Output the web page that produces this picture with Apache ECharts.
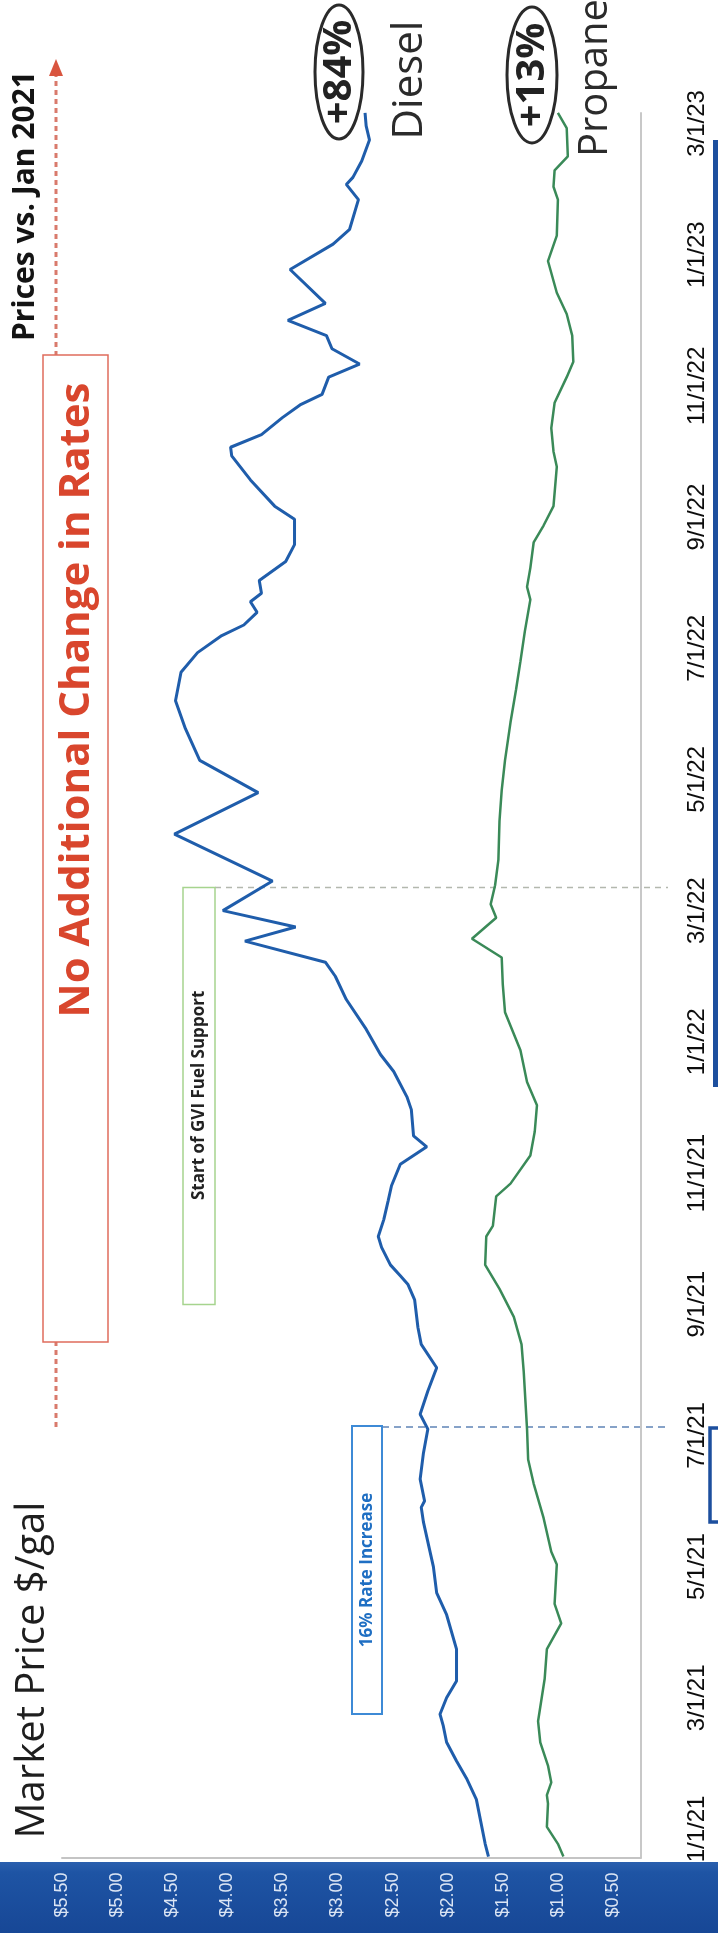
<!DOCTYPE html>
<html><head><meta charset="utf-8">
<script src="https://cdn.jsdelivr.net/npm/echarts@6/dist/echarts.min.js"></script>
<style>html,body{margin:0;padding:0;background:#fff}#c{width:718px;height:1933px}</style>
</head><body><div id="c"></div>
<script>
// ---------- data ----------
const dieselDates = ['2020-12-19','2020-12-25','2021-01-15','2021-01-25','2021-02-02','2021-02-10','2021-02-17','2021-02-22','2021-03-01','2021-03-09',
'2021-03-24','2021-04-09','2021-04-19','2021-05-01','2021-05-08','2021-05-22','2021-05-29','2021-06-01','2021-06-11','2021-06-23',
'2021-07-04','2021-07-11','2021-07-22','2021-08-02','2021-08-13','2021-08-21','2021-09-03','2021-09-10','2021-09-14','2021-09-19',
'2021-09-27','2021-10-02','2021-10-10','2021-10-19','2021-10-26','2021-11-05','2021-11-13','2021-11-18','2021-11-30','2021-12-06',
'2021-12-18','2021-12-26','2022-01-07','2022-01-21','2022-02-01','2022-02-07','2022-02-16','2022-02-22','2022-03-01','2022-03-15',
'2022-04-06','2022-04-25','2022-05-10','2022-05-25','2022-06-07','2022-06-20','2022-06-29','2022-07-07','2022-07-12','2022-07-18',
'2022-07-23','2022-07-27','2022-08-02','2022-08-11','2022-08-19','2022-08-31','2022-09-06','2022-09-18','2022-09-29','2022-10-03',
'2022-10-09','2022-10-17','2022-10-23','2022-10-28','2022-11-05','2022-11-11','2022-11-18','2022-11-24','2022-12-01','2022-12-09',
'2022-12-25','2023-01-06','2023-01-13','2023-01-27','2023-02-03','2023-02-06','2023-02-13','2023-02-22','2023-02-28','2023-03-06'];
const dieselPrices = [1.63,1.66,1.74,1.83,1.92,2.01,2.04,2.07,2.01,1.92,
1.92,2.01,2.10,2.13,2.16,2.22,2.24,2.21,2.25,2.22,
2.18,2.25,2.18,2.10,2.24,2.27,2.30,2.36,2.43,2.52,
2.60,2.63,2.58,2.54,2.51,2.43,2.19,2.31,2.33,2.37,
2.49,2.61,2.74,2.92,3.02,3.11,3.84,3.38,4.04,3.59,
4.48,3.72,4.25,4.38,4.47,4.42,4.27,4.05,3.85,3.73,
3.79,3.69,3.71,3.47,3.39,3.39,3.57,3.79,3.96,3.97,
3.69,3.50,3.34,3.14,3.08,2.80,3.05,3.10,3.45,3.11,
3.43,3.04,2.89,2.81,2.92,2.86,2.78,2.71,2.74,2.75];

const propaneDates = ['2020-12-19','2020-12-25','2021-01-02','2021-01-13','2021-01-17','2021-01-23','2021-01-31','2021-02-10','2021-02-19','2021-03-10',
'2021-03-24','2021-04-05','2021-04-14','2021-05-02','2021-05-08','2021-05-24','2021-06-09','2021-06-20','2021-07-04','2021-07-31',
'2021-08-13','2021-08-26','2021-09-08','2021-09-19','2021-10-02','2021-10-07','2021-10-21','2021-10-27','2021-11-09','2021-11-20',
'2021-12-02','2021-12-13','2021-12-28','2022-01-15','2022-01-28','2022-02-09','2022-02-17','2022-02-26','2022-03-04','2022-03-13',
'2022-03-25','2022-04-12','2022-04-26','2022-05-10','2022-05-28','2022-06-12','2022-06-25','2022-07-09','2022-07-24','2022-07-30',
'2022-08-08','2022-08-20','2022-08-28','2022-09-06','2022-09-24','2022-10-01','2022-10-12','2022-10-24','2022-11-05','2022-11-12',
'2022-11-24','2022-12-04','2022-12-14','2022-12-29','2023-01-10','2023-01-27','2023-02-02','2023-02-09','2023-02-15','2023-02-27','2023-03-06'];
const propanePrices = [0.95,1.00,1.10,1.09,1.10,1.06,1.09,1.16,1.18,1.12,
1.10,0.97,1.03,1.01,1.06,1.13,1.22,1.27,1.28,1.31,
1.33,1.40,1.53,1.66,1.65,1.59,1.56,1.43,1.25,1.21,
1.19,1.28,1.34,1.48,1.50,1.51,1.78,1.56,1.61,1.57,
1.54,1.53,1.51,1.48,1.43,1.38,1.34,1.30,1.25,1.28,
1.25,1.22,1.13,1.04,1.01,1.04,1.06,1.03,0.92,0.86,
0.87,0.92,1.01,1.09,1.01,1.00,1.04,1.03,0.91,0.92,1.00];

const priceTicks = [0.5,1.0,1.5,2.0,2.5,3.0,3.5,4.0,4.5,5.0,5.5];
const dateTicks = [0,2,4,6,8,10,12,14,16,18,20,22,24,26]; // months after Jan 2021
const dateTickLabels = ['1/1/21','3/1/21','5/1/21','7/1/21','9/1/21','11/1/21','1/1/22','3/1/22','5/1/22','7/1/22','9/1/22','11/1/22','1/1/23','3/1/23'];
const rateIncreaseDate = '2021-07-05';
const gviStartDate = '2022-03-12';
const dieselChange = '+84%';
const propaneChange = '+13%';

// ---------- helpers ----------
function monthIndex(s){
  const p = s.split('-').map(Number);
  const dim = new Date(p[0], p[1], 0).getDate();
  return (p[0]-2021)*12 + (p[1]-1) + (p[2]-1)/dim;
}

const chart = echarts.init(document.getElementById('c'), null, {renderer:'canvas', width:718, height:1933});

const option = {
  animation: false,
  backgroundColor: '#ffffff',
  grid: {left: 62, right: 77.45, top: 113, bottom: 75, containLabel: false, outerBoundsMode: 'none'},
  xAxis: {
    type: 'value', inverse: true, min: 0.25, max: 5.5,
    splitLine: {show: false},
    axisTick: {show: false},
    axisLine: {show: true, onZero: false, lineStyle: {color: '#c4c4c4', width: 2}},
    axisLabel: {
      customValues: priceTicks,
      formatter: v => '$' + v.toFixed(2),
      rotate: 90, margin: 37, align: 'center', verticalAlign: 'middle',
      color: '#dbe5f4', fontSize: 18, fontFamily: 'Liberation Sans'
    }
  },
  yAxis: {
    type: 'value', min: -0.442, max: 26.16, position: 'right',
    splitLine: {show: false},
    axisTick: {show: false},
    axisLine: {show: true, onZero: false, lineStyle: {color: '#c8c8c8', width: 2}},
    axisLabel: {
      customValues: dateTicks,
      formatter: v => dateTickLabels[dateTicks.indexOf(Math.round(v))] || '',
      rotate: 90, margin: 57, align: 'center', verticalAlign: 'middle',
      color: '#0d0d0d', fontSize: 24, fontFamily: "'Liberation Sans', Arial, sans-serif"
    }
  },
  series: [
    {name: 'Diesel', type: 'line', symbol: 'none', clip: false,
     data: dieselDates.map((d,i) => [dieselPrices[i], monthIndex(d)]),
     lineStyle: {color: '#1f5dab', width: 3}, z: 3},
    {name: 'Propane', type: 'line', symbol: 'none', clip: false,
     data: propaneDates.map((d,i) => [propanePrices[i], monthIndex(d)]),
     lineStyle: {color: '#3a8a58', width: 2.5}, z: 3}
  ]
};
chart.setOption(option);

const yRate = chart.convertToPixel({yAxisIndex: 0}, monthIndex(rateIncreaseDate));
const yGvi = chart.convertToPixel({yAxisIndex: 0}, monthIndex(gviStartDate));
const R = Math.PI/2;

const graphics = [
  {type:'rect', z:-10, shape:{x:0, y:1862, width:718, height:71},
   style:{fill: new echarts.graphic.LinearGradient(0,0,0,1,[{offset:0,color:'#2a5fae'},{offset:0.15,color:'#1e54a4'},{offset:1,color:'#174796'}])}},
  // titles
  {type:'text', x:33, y:1670, rotation:R, style:{text:'Market Price $/gal', fill:'#1e1e1e', font:"40px 'Open Sans'", align:'center', verticalAlign:'middle'}},
  {type:'text', x:25, y:206, rotation:R, style:{text:'Prices vs. Jan 2021', fill:'#141414', font:"bold 30px 'Open Sans'", align:'center', verticalAlign:'middle'}},
  // red arrow
  {type:'line', shape:{x1:56, y1:yRate, x2:56, y2:74}, style:{stroke:'#d97a6c', lineWidth:3, lineDash:[5,4]}},
  {type:'polygon', shape:{points:[[56,59],[49,76],[63,76]]}, style:{fill:'#d9553f'}},
  {type:'rect', shape:{x:43, y:355, width:65, height:987}, style:{fill:'#ffffff', stroke:'#e06c5c', lineWidth:1.5}},
  {type:'text', x:77, y:700, rotation:R, style:{text:'No Additional Change in Rates', fill:'#d9462d', font:"bold 42px 'Open Sans'", align:'center', verticalAlign:'middle'}},
  // 16% rate increase
  {type:'line', shape:{x1:382, y1:yRate, x2:668, y2:yRate}, style:{stroke:'#86a2c8', lineWidth:2, lineDash:[7,5]}},
  {type:'rect', shape:{x:352, y:yRate-1, width:30, height:288}, style:{fill:'#ffffff', stroke:'#3d8ad6', lineWidth:2}},
  {type:'text', x:367, y:yRate+143, rotation:R, style:{text:'16% Rate Increase', fill:'#1f6fc3', font:"bold 17px 'Open Sans'", align:'center', verticalAlign:'middle'}},
  // GVI
  {type:'line', shape:{x1:215, y1:yGvi, x2:668, y2:yGvi}, style:{stroke:'#b3b8ae', lineWidth:1.5, lineDash:[6,5]}},
  {type:'rect', shape:{x:183, y:yGvi, width:32, height:417}, style:{fill:'#ffffff', stroke:'#a6d48e', lineWidth:1.5}},
  {type:'text', x:199, y:yGvi+208, rotation:R, style:{text:'Start of GVI Fuel Support', fill:'#222222', font:"bold 17px 'Open Sans'", align:'center', verticalAlign:'middle'}},
  // end labels
  {type:'ellipse', shape:{cx:339, cy:72, rx:24, ry:67}, style:{fill:'none', stroke:'#2a2a2a', lineWidth:3}},
  {type:'text', x:340, y:72, rotation:R, style:{text:dieselChange, fill:'#222222', font:"bold 40px 'Open Sans'", align:'center', verticalAlign:'middle'}},
  {type:'ellipse', shape:{cx:532, cy:75, rx:25, ry:68}, style:{fill:'none', stroke:'#2a2a2a', lineWidth:3}},
  {type:'text', x:533, y:75, rotation:R, style:{text:propaneChange, fill:'#222222', font:"bold 40px 'Open Sans'", align:'center', verticalAlign:'middle'}},
  {type:'text', x:410, y:80, rotation:R, style:{text:'Diesel', fill:'#2b2b2b', font:"42px 'Open Sans'", align:'center', verticalAlign:'middle'}},
  {type:'text', x:596, y:78, rotation:R, style:{text:'Propane', fill:'#2b2b2b', font:"40px 'Open Sans'", align:'center', verticalAlign:'middle'}},
  // right edge artifacts
  {type:'line', shape:{x1:715.5, y1:140, x2:715.5, y2:1087}, style:{stroke:'#1d4f9e', lineWidth:5}},
  {type:'polyline', shape:{points:[[718,1428],[710,1428],[710,1522],[718,1522]]}, style:{stroke:'#1d4f9e', lineWidth:3.5, fill:'none'}}
];
chart.setOption({graphic: graphics});
</script>
</body></html>
